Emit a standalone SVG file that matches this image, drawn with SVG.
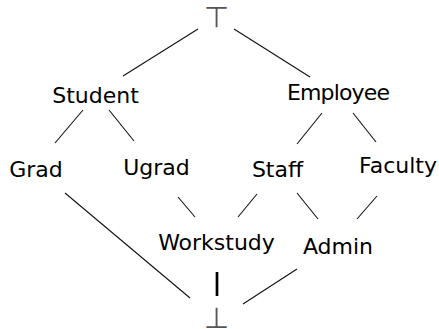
<svg xmlns="http://www.w3.org/2000/svg" width="439" height="329" viewBox="0 0 439 329">
  <style>
    .lbl { font-family: "DejaVu Sans", "Liberation Sans", sans-serif; font-size: 22px; fill: #000; text-anchor: middle; }
    .sym { font-family: "DejaVu Sans", sans-serif; font-size: 29px; fill: #555; text-anchor: middle; }
    .edge { stroke: #111; stroke-width: 1.1; fill: none; stroke-linecap: butt; }
    .bold { stroke: #000; stroke-width: 2.7; }
  </style>
  <rect width="439" height="329" fill="#fff"/>

  <!-- lattice edges -->
  <g id="connectors">
    <line class="edge" x1="198" y1="29" x2="123" y2="76"/>
    <line class="edge" x1="234" y1="29" x2="310" y2="77"/>
    <line class="edge" x1="83" y1="110" x2="55" y2="143"/>
    <line class="edge" x1="109" y1="110" x2="134" y2="141"/>
    <line class="edge" x1="322" y1="113" x2="297" y2="144"/>
    <line class="edge" x1="353" y1="113" x2="376" y2="142"/>
    <line class="edge" x1="178" y1="197" x2="195" y2="217"/>
    <line class="edge" x1="257" y1="194" x2="238" y2="217"/>
    <line class="edge" x1="297" y1="193" x2="318" y2="219"/>
    <line class="edge" x1="377" y1="196" x2="357" y2="219"/>
    <line class="edge" x1="65" y1="193" x2="190" y2="298"/>
    <line class="edge" x1="297" y1="269" x2="243" y2="304"/>
    <line class="edge bold" x1="217" y1="272" x2="217" y2="296"/>
  </g>

  <g id="top"><text class="sym" x="216.5" y="26.5">⊤</text></g>
  <g id="student"><text class="lbl" x="95.5" y="103">Student</text></g>
  <g id="employee"><text class="lbl" x="338.5" y="100" textLength="103">Employee</text></g>
  <g id="grad"><text class="lbl" x="36" y="177">Grad</text></g>
  <g id="ugrad"><text class="lbl" x="156.5" y="175">Ugrad</text></g>
  <g id="staff"><text class="lbl" x="277.5" y="177">Staff</text></g>
  <g id="faculty"><text class="lbl" x="398" y="173">Faculty</text></g>
  <g id="workstudy"><text class="lbl" x="216.5" y="250">Workstudy</text></g>
  <g id="admin"><text class="lbl" x="338" y="254">Admin</text></g>
  <g id="bottom"><text class="sym" x="216.5" y="328">⊥</text></g>
</svg>
